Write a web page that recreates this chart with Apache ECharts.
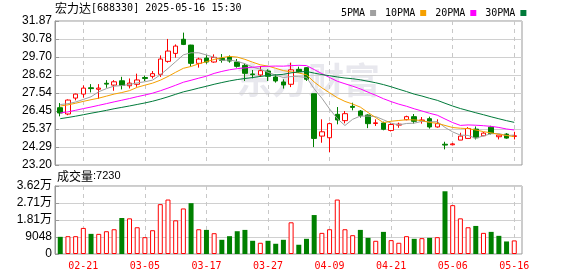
<!DOCTYPE html>
<html>
<head>
<meta charset="utf-8">
<script src="https://cdn.jsdelivr.net/npm/echarts@6/dist/echarts.min.js"></script>
<style>html,body{margin:0;padding:0;background:#fff;}#c{width:578px;height:276px;}</style>
</head>
<body>
<div id="c"></div>
<script>
var dates = ['02-18','02-19','02-20','02-21','02-24','02-25','02-26','02-27','02-28',
'03-03','03-04','03-05','03-06','03-07','03-10','03-11','03-12','03-13','03-14','03-17','03-18','03-19','03-20','03-21','03-24','03-25','03-26','03-27','03-28','03-31',
'04-01','04-02','04-03','04-07','04-08','04-09','04-10','04-11','04-14','04-15','04-16','04-17','04-18','04-21','04-22','04-23','04-24','04-25','04-28','04-29','04-30',
'05-06','05-07','05-08','05-09','05-12','05-13','05-14','05-15','05-16'];
var opens = [26.65,26.27,27.23,27.47,27.85,27.76,28.12,28.01,28.27,27.97,28.06,28.47,28.54,28.66,29.44,29.92,30.77,30.42,29.32,29.64,29.40,29.62,29.70,29.40,29.20,28.68,28.62,28.86,28.50,28.20,28.06,28.96,29.06,27.49,24.94,24.84,26.25,25.87,26.73,26.45,26.21,25.70,25.73,25.28,25.60,25.93,26.11,25.87,25.99,25.49,24.45,24.42,24.70,24.80,25.36,24.96,25.48,24.90,25.06,24.92];
var closes = [26.33,27.11,27.47,27.83,27.80,27.83,28.07,28.21,27.99,28.13,28.32,28.41,28.70,29.58,30.06,30.36,30.46,29.32,29.58,29.40,29.68,29.50,29.46,29.14,28.72,28.64,28.88,28.54,28.26,28.02,28.93,28.82,28.36,24.80,25.20,25.69,25.91,26.29,26.67,26.17,25.69,25.74,25.35,25.64,25.66,26.11,25.83,25.91,25.49,25.69,24.40,24.47,24.94,25.40,24.84,25.12,25.10,25.00,24.82,24.96];
var lows = [26.13,26.20,27.09,27.25,27.57,27.19,27.85,27.67,27.75,27.81,27.91,28.26,28.41,28.50,29.36,29.66,30.42,29.12,29.06,29.30,29.36,29.36,29.36,29.06,28.26,28.42,28.50,28.26,28.16,27.80,27.89,28.76,28.26,24.28,24.54,23.98,25.65,25.71,26.49,26.05,25.42,25.55,25.29,25.22,25.44,25.89,25.69,25.69,25.39,25.45,24.14,24.38,24.70,24.80,24.74,24.94,25.04,24.74,24.78,24.74];
var highs = [26.93,27.15,27.50,27.99,28.07,28.07,28.31,28.31,28.51,28.41,28.70,28.58,28.86,29.80,30.79,30.46,31.17,30.44,29.66,29.82,29.86,29.88,29.80,29.58,29.32,28.92,29.16,28.96,28.66,28.36,29.36,29.12,29.10,27.49,25.95,25.75,26.69,26.45,26.95,26.51,26.25,25.95,25.81,25.72,25.75,26.17,26.27,26.09,26.11,25.95,24.60,24.53,25.14,25.48,25.52,25.18,25.56,25.00,25.12,25.20];
var volumes = [9136,9488,9488,13880,10718,10718,12123,13178,19151,18976,14232,8961,12650,26531,28990,17921,24247,27058,13178,12826,11069,7555,9488,12123,12826,7028,5974,7028,5447,7555,16867,4920,8082,20733,11245,13178,28990,13178,10015,12826,8609,7028,11772,7379,5974,9488,8082,8434,8609,8961,33383,26004,18976,14232,14935,11245,11772,9664,6677,7230];
// closes of the 29 sessions before the window (needed for the moving averages)
var prevCloses = [25.0,25.1,25.2,25.1,25.3,25.4,25.3,25.5,25.6,25.6,25.7,25.6,25.8,25.9,25.8,26.0,26.1,26.0,26.1,26.1,26.4,26.5,26.7,26.8,26.9,26.86,26.95,27.06,27.0];
var yTickLabels = ['23.20','24.29','25.37','26.45','27.54','28.62','29.70','30.78','31.87'];
var volTickLabels = ['0','9048','1.81万','2.71万','3.62万'];
var maNames = ['5PMA','10PMA','20PMA','30PMA'];
var maPeriods = [5,10,20,30];

var yMin = 23.20, yMax = 31.87, yInterval = (yMax - yMin) / 8;
var vMax = 36192, vInterval = 9048;

var allCloses = prevCloses.concat(closes);
function ma(n) {
  var out = [];
  for (var i = 0; i < closes.length; i++) {
    var k = i + prevCloses.length, s = 0;
    for (var j = k - n + 1; j <= k; j++) s += allCloses[j];
    out.push(+(s / n).toFixed(3));
  }
  return out;
}
var maColors = ['#a0a0a0','#f5a000','#ff00ff','#007a3a'];
var candleData = dates.map(function (d, i) { return [opens[i], closes[i], lows[i], highs[i]]; });
var volData = volumes.map(function (v, i) {
  var pc = i === 0 ? prevCloses[prevCloses.length - 1] : closes[i - 1];
  var up = closes[i] >= pc;
  return { value: v, itemStyle: up ? { color: '#ffffff', borderColor: '#ff0000', borderWidth: 1 } : { color: '#008000', borderColor: '#008000', borderWidth: 0 } };
});
var labelInt = function (idx) { return (idx - 3) % 8 === 0; };
var mono = "'DejaVu Sans Mono', 'Noto Sans CJK SC'";
var sans = "'Liberation Sans', 'Noto Sans CJK SC'";

var series = [{
  type: 'candlestick', xAxisIndex: 1, yAxisIndex: 1, data: candleData, barWidth: 5,
  itemStyle: { color: '#ffffff', color0: '#008000', borderColor: '#ff0000', borderColor0: '#008000', borderWidth: 1 }
}];
maNames.forEach(function (nm, k) {
  series.push({ name: nm, type: 'line', xAxisIndex: 1, yAxisIndex: 1, data: ma(maPeriods[k]), symbol: 'none', silent: true,
    lineStyle: { width: 1, color: maColors[k] }, itemStyle: { color: maColors[k] } });
});
series.push({ type: 'bar', xAxisIndex: 3, yAxisIndex: 3, data: volData, barWidth: 5 });

var chart = echarts.init(document.getElementById('c'), null, { renderer: 'canvas' });
chart.setOption({
  animation: false,
  backgroundColor: '#ffffff',
  legend: {
    data: maNames, left: 336, top: 3, icon: 'rect', itemWidth: 6, itemHeight: 6, itemGap: 9, align: 'right',
    textStyle: { fontSize: 10, fontFamily: mono, color: '#000' }
  },
  graphic: [
    { type: 'text', left: 55, top: 2, z: 10, style: { text: '{a|宏力达}{b|[688330] 2025-05-16 15:30}',
      rich: { a: { fontSize: 12, fontFamily: "'Noto Sans CJK SC'", fill: '#000' }, b: { fontSize: 10, fontFamily: mono, fill: '#000' } } } },
    { type: 'text', left: 57, top: 170, z: 10, style: { text: '{a|成交量}{b|:7230}',
      rich: { a: { fontSize: 12, fontFamily: "'Noto Sans CJK SC'", fill: '#000' }, b: { fontSize: 11, fontFamily: sans, fill: '#000' } } } },
    { type: 'text', left: 236, top: 62, z: 0, style: { text: '东方财富', fontSize: 36, fontWeight: 'bold', fontFamily: "'Noto Sans CJK SC'", fill: '#e8e8ee' } }
  ],
  grid: [
    { left: 55, right: 56, top: 21, height: 144, show: true, borderColor: '#999', borderWidth: 1, backgroundColor: 'transparent' },
    { left: 56.4, right: 59.9, top: 21, height: 144 },
    { left: 55, right: 56, top: 186, height: 68, show: true, borderColor: '#999', borderWidth: 1, backgroundColor: 'transparent' },
    { left: 56.4, right: 59.9, top: 186, height: 68 }
  ],
  xAxis: [
    { gridIndex: 0, type: 'value', min: 0, max: 1, show: false },
    { gridIndex: 1, type: 'category', data: dates, boundaryGap: true,
      axisLine: { show: false }, axisTick: { show: false }, axisLabel: { show: false },
      splitLine: { show: true, interval: labelInt, alignWithLabel: true, lineStyle: { color: '#c8c8c8', type: [4, 4], width: 1 } } },
    { gridIndex: 2, type: 'value', min: 0, max: 1, show: false },
    { gridIndex: 3, type: 'category', data: dates, boundaryGap: true,
      axisLine: { show: false }, axisTick: { show: false },
      axisLabel: { show: true, interval: labelInt, color: '#ff0000', fontSize: 10, fontFamily: mono, margin: 7 },
      splitLine: { show: true, interval: labelInt, alignWithLabel: true, lineStyle: { color: '#c8c8c8', type: [4, 4], width: 1 } } }
  ],
  yAxis: [
    { gridIndex: 0, type: 'value', min: yMin, max: yMax, interval: yInterval,
      axisLine: { show: true, lineStyle: { color: '#999' } },
      axisTick: { show: true, inside: true, length: 4, lineStyle: { color: '#999' } },
      axisLabel: { color: '#000', fontSize: 12, fontFamily: sans, margin: 3,
        formatter: function (v) { return yTickLabels[Math.round((v - yMin) / yInterval)]; } },
      splitLine: { show: true, lineStyle: { color: '#d0d0d0', width: 1 } } },
    { gridIndex: 1, type: 'value', min: yMin, max: yMax, show: false, splitLine: { show: false } },
    { gridIndex: 2, type: 'value', min: 0, max: vMax, interval: vInterval,
      axisLine: { show: true, lineStyle: { color: '#999' } },
      axisTick: { show: true, inside: true, length: 4, lineStyle: { color: '#999' } },
      axisLabel: { color: '#000', fontSize: 12, fontFamily: sans, margin: 3,
        formatter: function (v) { return volTickLabels[Math.round(v / vInterval)]; } },
      splitLine: { show: true, lineStyle: { color: '#d0d0d0', width: 1 } } },
    { gridIndex: 3, type: 'value', min: 0, max: vMax, show: false, splitLine: { show: false } }
  ],
  series: series
});
</script>
</body>
</html>
